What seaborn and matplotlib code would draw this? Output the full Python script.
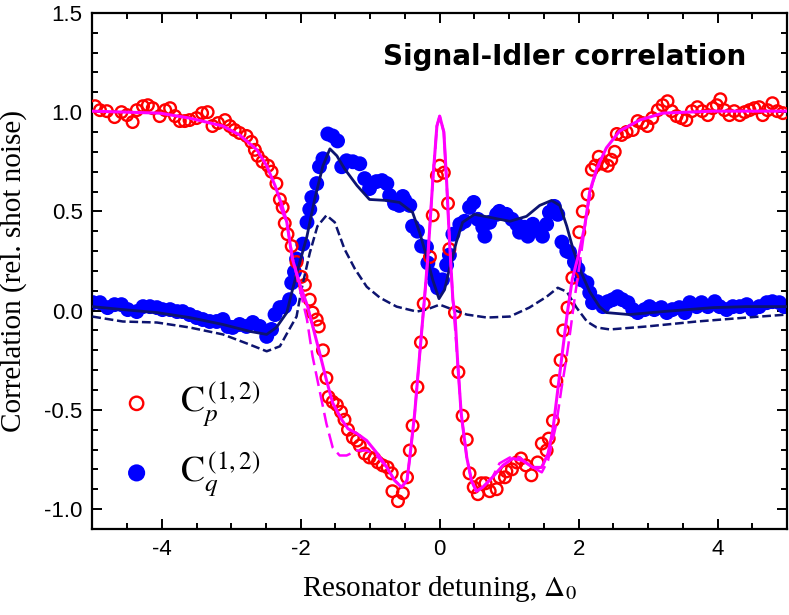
import matplotlib
matplotlib.use("Agg")
import matplotlib.pyplot as plt
import pandas as pd
import seaborn as sns
import numpy as np

# measured points: C_p (open red) and C_q (filled blue)
cp_x = [-4.96, -4.89, -4.79, -4.68, -4.58, -4.50, -4.42, -4.36, -4.27, -4.20, -4.13, -4.03, -3.95,
        -3.88, -3.81, -3.74, -3.67, -3.60, -3.50, -3.42, -3.34, -3.27, -3.19, -3.09, -3.02, -2.95,
        -2.88, -2.78, -2.71, -2.66, -2.62, -2.55, -2.47, -2.42, -2.35, -2.30, -2.26, -2.23, -2.19,
        -2.13, -2.06, -1.99, -1.94, -1.87, -1.83, -1.77, -1.74, -1.68, -1.63, -1.60, -1.54, -1.48,
        -1.42, -1.37, -1.32, -1.25, -1.19, -1.15, -1.08, -1.01, -0.94, -0.89, -0.82, -0.75, -0.69,
        -0.68, -0.60, -0.53, -0.47, -0.43, -0.39, -0.32, -0.27, -0.23, -0.14, -0.10, -0.04, 0.00,
        0.06, 0.12, 0.14, 0.22, 0.27, 0.33, 0.39, 0.43, 0.49, 0.55, 0.60, 0.66, 0.72, 0.82, 0.86,
        0.94, 0.96, 1.04, 1.11, 1.17, 1.24, 1.32, 1.41, 1.47, 1.54, 1.57, 1.63, 1.68, 1.74, 1.78,
        1.84, 1.91, 2.01, 2.06, 2.13, 2.19, 2.24, 2.29, 2.35, 2.42, 2.47, 2.52, 2.55, 2.62, 2.69,
        2.78, 2.85, 2.92, 2.99, 3.06, 3.14, 3.21, 3.28, 3.34, 3.41, 3.48, 3.55, 3.63, 3.71, 3.78,
        3.86, 3.93, 3.99, 4.04, 4.10, 4.17, 4.24, 4.32, 4.39, 4.46, 4.53, 4.60, 4.65, 4.72, 4.79,
        4.86, 4.94]
cp_y = [1.03, 1.01, 1.005, 0.975, 1.00, 0.985, 0.95, 1.01, 1.03, 1.035, 1.02, 0.98, 1.01,
        1.02, 0.98, 0.955, 0.955, 0.96, 0.97, 0.995, 1.00, 0.93, 0.945, 0.96, 0.93, 0.91,
        0.895, 0.88, 0.85, 0.81, 0.78, 0.75, 0.73, 0.70, 0.64, 0.56, 0.52, 0.44, 0.385,
        0.325, 0.245, 0.17, 0.13, 0.055, -0.01, -0.045, -0.08, -0.20, -0.34, -0.435, -0.46, -0.475,
        -0.51, -0.55, -0.60, -0.64, -0.655, -0.68, -0.72, -0.74, -0.745, -0.765, -0.78, -0.79, -0.82,
        -0.91, -0.96, -0.92, -0.84, -0.705, -0.58, -0.385, -0.16, 0.035, 0.27, 0.48, 0.68, 0.73,
        0.695, 0.54, 0.31, -0.01, -0.31, -0.53, -0.65, -0.82, -0.89, -0.925, -0.87, -0.87, -0.91, -0.90, -0.84,
        -0.84, -0.81, -0.80, -0.765, -0.745, -0.78, -0.83, -0.765, -0.67, -0.705, -0.645, -0.555, -0.355, -0.25, -0.10,
        0.015, 0.165, 0.395, 0.50, 0.585, 0.71, 0.73, 0.775, 0.74, 0.73, 0.76, 0.80, 0.89, 0.885, 0.90,
        0.91, 0.955, 0.945, 0.93, 0.97, 1.01, 1.035, 1.055, 1.005, 0.98, 0.97, 0.96, 1.005, 1.025, 1.005,
        0.985, 1.02, 1.035, 1.065, 1.01, 0.985, 1.005, 0.985, 1.00, 1.01, 1.02, 1.025, 0.985, 1.01, 1.045,
        1.005, 0.995]

cq_x = [-4.99, -4.89, -4.78, -4.68, -4.58, -4.49, -4.36, -4.27, -4.17, -4.07, -3.99, -3.88, -3.78,
        -3.70, -3.60, -3.50, -3.41, -3.31, -3.21, -3.12, -3.05, -2.98, -2.88, -2.78, -2.69, -2.59,
        -2.49, -2.42, -2.37, -2.30, -2.23, -2.16, -2.13, -2.09, -2.06, -1.97, -1.91, -1.87, -1.84,
        -1.77, -1.73, -1.68, -1.61, -1.54, -1.47, -1.41, -1.34, -1.25, -1.15, -1.08, -1.01, -0.91,
        -0.83, -0.76, -0.72, -0.65, -0.58, -0.53, -0.50, -0.43, -0.39, -0.32, -0.26, -0.19, -0.17,
        -0.10, -0.07, -0.03, 0.04, 0.10, 0.14, 0.19, 0.29, 0.36, 0.43, 0.49, 0.55, 0.62, 0.65,
        0.72, 0.82, 0.86, 0.96, 1.04, 1.11, 1.15, 1.22, 1.27, 1.34, 1.44, 1.48, 1.54, 1.58, 1.65,
        1.70, 1.76, 1.83, 1.87, 1.94, 1.99, 2.04, 2.12, 2.16, 2.20, 2.27, 2.35, 2.42, 2.49, 2.56,
        2.63, 2.71, 2.78, 2.85, 2.95, 3.02, 3.09, 3.19, 3.27, 3.35, 3.45, 3.53, 3.60, 3.70, 3.77,
        3.86, 3.96, 4.03, 4.13, 4.22, 4.32, 4.42, 4.50, 4.60, 4.71, 4.79, 4.89, 4.96]
cq_y = [0.04, 0.04, 0.015, 0.03, 0.03, 0.005, -0.005, 0.02, 0.02, 0.015, 0.005, 0.005, -0.005,
        -0.005, -0.02, -0.035, -0.045, -0.055, -0.055, -0.045, -0.08, -0.085, -0.07, -0.08, -0.06, -0.08,
        -0.13, -0.095, -0.02, 0.015, 0.02, 0.055, 0.14, 0.195, 0.26, 0.335, 0.445, 0.51, 0.57,
        0.64, 0.725, 0.765, 0.89, 0.88, 0.855, 0.725, 0.755, 0.75, 0.74, 0.665, 0.615, 0.65,
        0.655, 0.64, 0.58, 0.54, 0.53, 0.575, 0.555, 0.53, 0.425, 0.40, 0.325, 0.32, 0.24,
        0.18, 0.145, 0.115, 0.155, 0.23, 0.28, 0.385, 0.435, 0.45, 0.52, 0.545, 0.46, 0.42, 0.375,
        0.445, 0.485, 0.50, 0.485, 0.46, 0.435, 0.395, 0.42, 0.375, 0.435, 0.40, 0.375, 0.435, 0.495, 0.525,
        0.485, 0.345, 0.30, 0.295, 0.245, 0.21, 0.155, 0.14, 0.09, 0.04, 0.045, 0.02, 0.045, 0.055, 0.07,
        0.055, 0.04, 0.005, -0.01, 0.005, 0.02, 0.005, 0.015, -0.01, 0.005, 0.015, -0.01, 0.04, 0.02, 0.04,
        0.02, 0.045, 0.02, 0.005, 0.02, 0.02, 0.03, 0.005, 0.02, 0.04, 0.045, 0.04, 0.02]

# theory curves
fit_p_x = [-5.0, -4.03, -3.6, -3.12, -2.88, -2.63, -2.49, -2.37, -2.27, -2.20, -2.12, -2.01, -1.90,
           -1.73, -1.63, -1.54, -1.41, -1.32, -1.19, -1.05, -0.91, -0.76, -0.65, -0.55, -0.47, -0.43,
           -0.36, -0.29, -0.22, -0.17, -0.10, -0.04, 0.0, 0.06, 0.10, 0.14, 0.19, 0.22, 0.26, 0.31,
           0.39, 0.46, 0.53, 0.62, 0.76, 0.91, 1.05, 1.19, 1.34, 1.47, 1.56, 1.63, 1.70, 1.77, 1.84,
           1.91, 2.01, 2.09, 2.16, 2.26, 2.40, 2.59, 2.88, 3.21, 3.93, 5.0]
fit_p_y = [1.005, 0.995, 0.97, 0.93, 0.885, 0.81, 0.73, 0.63, 0.53, 0.445, 0.26, 0.13, 0.02,
           -0.21, -0.35, -0.465, -0.55, -0.595, -0.62, -0.655, -0.715, -0.79, -0.855, -0.89, -0.855, -0.74,
           -0.52, -0.23, 0.055, 0.27, 0.65, 0.93, 0.98, 0.90, 0.65, 0.36, 0.055, -0.02, -0.265, -0.52,
           -0.74, -0.86, -0.91, -0.89, -0.84, -0.78, -0.745, -0.755, -0.79, -0.79, -0.72, -0.60, -0.40, -0.20, -0.005,
           0.16, 0.295, 0.43, 0.60, 0.715, 0.82, 0.905, 0.96, 0.995, 1.005, 1.005]

fit_p2_x = [-2.30, -2.20, -2.12, -2.01, -1.91, -1.83, -1.73, -1.63, -1.54, -1.44, -1.34, -1.19, -1.05,
            -0.91, -0.76, -0.65, -0.55, -0.47, -0.43, -0.36, -0.29, -0.22, -0.17, -0.10, -0.04, 0.0,
            0.06, 0.10, 0.14, 0.19, 0.26, 0.31, 0.39, 0.46, 0.53, 0.62, 0.76, 0.86, 1.01, 1.15, 1.34,
            1.47, 1.56, 1.68, 1.75, 1.82, 1.87, 1.95, 2.03, 2.12, 2.20, 2.30]
fit_p2_y = [0.53, 0.44, 0.27, 0.105, -0.045, -0.23, -0.40, -0.57, -0.69, -0.73, -0.73, -0.705, -0.705,
            -0.73, -0.79, -0.855, -0.89, -0.855, -0.74, -0.52, -0.23, 0.055, 0.27, 0.65, 0.93, 0.98,
            0.90, 0.65, 0.36, 0.055, -0.265, -0.52, -0.74, -0.86, -0.91, -0.89, -0.84, -0.77, -0.74, -0.74, -0.79,
            -0.815, -0.755, -0.57, -0.40, -0.25, -0.13, 0.08, 0.27, 0.50, 0.64, 0.74]

fit_q_x = [-5.0, -4.56, -4.07, -3.6, -3.12, -2.73, -2.49, -2.35, -2.20, -2.13, -2.04, -1.91, -1.80,
           -1.68, -1.58, -1.48, -1.37, -1.19, -1.01, -0.76, -0.58, -0.39, -0.29, -0.19, -0.10, -0.01,
           0.07, 0.14, 0.24, 0.33, 0.50, 0.72, 1.01, 1.25, 1.44, 1.61, 1.73, 1.83, 1.92, 2.04, 2.16,
           2.30, 2.40, 2.73, 3.21, 3.93, 4.42, 5.0]
fit_q_y = [0.02, 0.005, -0.01, -0.035, -0.07, -0.105, -0.12, -0.085, -0.01, 0.09, 0.21, 0.375, 0.56,
           0.73, 0.815, 0.78, 0.715, 0.63, 0.56, 0.555, 0.545, 0.495, 0.395, 0.275, 0.155, 0.06,
           0.105, 0.21, 0.345, 0.445, 0.485, 0.47, 0.45, 0.475, 0.53, 0.555, 0.53, 0.425, 0.31, 0.19, 0.095,
           0.02, -0.01, -0.02, -0.005, 0.015, 0.02, 0.02]

fit_q2_x = [-5.0, -4.56, -4.07, -3.6, -3.12, -2.78, -2.49, -2.30, -2.19, -2.06, -1.99, -1.87, -1.76,
            -1.63, -1.51, -1.37, -1.22, -1.05, -0.86, -0.62, -0.33, -0.19, 0.0, 0.19, 0.39, 0.68,
            1.01, 1.29, 1.54, 1.70, 1.83, 1.97, 2.12, 2.26, 2.45, 2.98, 3.70, 4.42, 5.0]
fit_q2_y = [-0.03, -0.055, -0.06, -0.085, -0.12, -0.165, -0.205, -0.18, -0.11, -0.03, 0.105, 0.29, 0.425,
            0.48, 0.445, 0.31, 0.21, 0.12, 0.065, 0.02, -0.005, 0.005, 0.03, 0.005, -0.02, -0.035,
            -0.03, 0.015, 0.07, 0.115, 0.095, 0.015, -0.055, -0.085, -0.095, -0.08, -0.055, -0.035, -0.02]

sns.set_style("ticks")
plt.rcParams['font.family'] = ['Liberation Sans', 'DejaVu Sans']
plt.rcParams['mathtext.fontset'] = 'stix'
plt.rcParams['axes.edgecolor'] = 'black'
plt.rcParams['xtick.color'] = 'black'
plt.rcParams['ytick.color'] = 'black'
plt.rcParams['axes.labelcolor'] = 'black'
plt.rcParams['text.color'] = 'black'

fig, ax = plt.subplots(figsize=(7.89, 6.15), dpi=100)
fig.subplots_adjust(left=0.117, right=0.9975, bottom=0.140, top=0.979)

df_p = pd.DataFrame({'x': cp_x, 'y': cp_y})
df_q = pd.DataFrame({'x': cq_x, 'y': cq_y})

sns.scatterplot(data=df_q, x='x', y='y', ax=ax, s=115, color='#0000ff', edgecolor='none',
                label=r'$\mathrm{C}_{q}^{\,(1,2)}$', zorder=2)
sns.scatterplot(data=df_p, x='x', y='y', ax=ax, s=70, facecolor='none', edgecolor='#ff0000',
                linewidth=1.7, label=r'$\mathrm{C}_{p}^{\,(1,2)}$', zorder=3)

navy = '#0d1470'
sns.lineplot(x=fit_q2_x, y=fit_q2_y, ax=ax, color=navy, lw=1.8, sort=False, estimator=None,
             linestyle=(0, (3.5, 1.5)), zorder=4)
sns.lineplot(x=fit_q_x, y=fit_q_y, ax=ax, color=navy, lw=2.0, sort=False, estimator=None, zorder=5)
sns.lineplot(x=fit_p2_x, y=fit_p2_y, ax=ax, color='#ff00ff', lw=1.8, sort=False, estimator=None,
             linestyle=(0, (6, 2.5)), zorder=6)
sns.lineplot(x=fit_p_x, y=fit_p_y, ax=ax, color='#ff00ff', lw=2.2, sort=False, estimator=None, zorder=7)

ax.set_xlim(-5, 5)
ax.set_ylim(-1.1, 1.5)
ax.set_xticks([-4, -2, 0, 2, 4])
ax.set_xticks(np.arange(-4.5, 5, 0.5), minor=True)
ax.set_xticklabels(['-4', '-2', '0', '2', '4'])
ax.set_yticks([-1.0, -0.5, 0.0, 0.5, 1.0, 1.5])
ax.set_yticklabels(['-1.0', '-0.5', '0.0', '0.5', '1.0', '1.5'])
ax.set_yticks(np.arange(-1.1, 1.5, 0.1), minor=True)
ax.tick_params(which='both', direction='in', top=True, right=True, width=1.4, labelsize=16)
ax.tick_params(which='major', length=7, pad=7)
ax.tick_params(which='minor', length=4)
for sp in ax.spines.values():
    sp.set_linewidth(1.6)

ax.set_xlabel(r'Resonator detuning, $\Delta_0$', fontsize=21, family='Liberation Serif', labelpad=10)
ax.set_ylabel('Correlation (rel. shot noise)', fontsize=21, family='Liberation Serif')
ax.yaxis.set_label_coords(-0.094, 0.5)

ax.text(0.68, 0.915, 'Signal-Idler correlation', transform=ax.transAxes, ha='center', va='center',
        fontsize=20, fontweight='bold', family='DejaVu Sans')

h, l = ax.get_legend_handles_labels()
ax.legend([h[1], h[0]], [l[1], l[0]], loc='lower left', bbox_to_anchor=(-0.035, -0.005), frameon=False,
          fontsize=26, handletextpad=0.2, labelspacing=0.55, markerscale=1.15)

fig.savefig('out.png', dpi=100)
